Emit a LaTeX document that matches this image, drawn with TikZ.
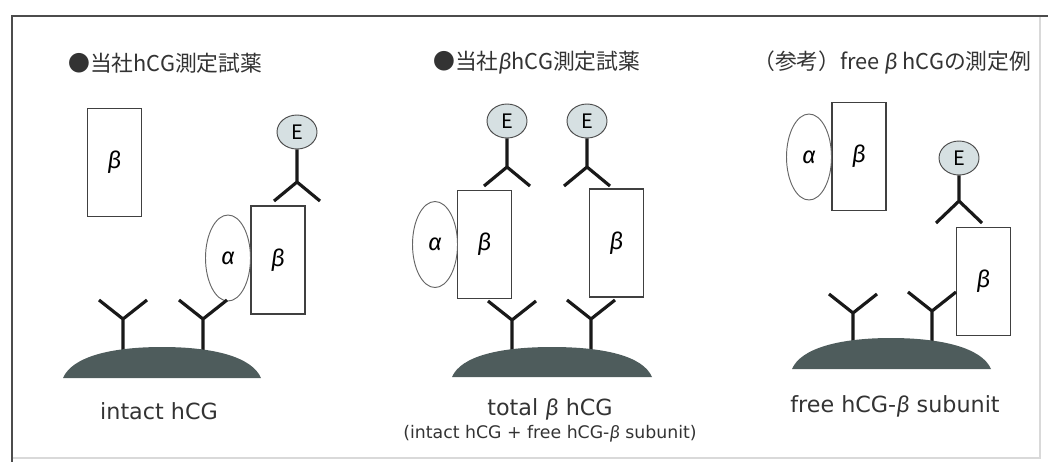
\documentclass[tikz,border=0pt]{standalone}
\usepackage{fontspec}
\usepackage{graphicx}
\usetikzlibrary{shapes.geometric}
\setmainfont{Noto Sans CJK JP}
\newfontfamily\greekfont{Fira Sans}
\newfontfamily\labelfont{DejaVu Sans}
\newcommand{\BetaIt}{{\greekfont\itshape β}}
\newcommand{\AlphaIt}{{\greekfont\itshape α}}
\definecolor{PhaseGray}{RGB}{78,92,92}
\definecolor{EnzymeFill}{RGB}{214,224,226}

\begin{document}
\begin{tikzpicture}[x=0.03cm,y=-0.03cm]
    \tikzset{SubunitStyle/.style =   {draw=black!75,line width=1.2pt,minimum width=1.62cm,minimum height=3.24cm,inner sep=0pt,font=\fontsize{20}{20}\selectfont}}
    \tikzset{AlphaStyle/.style =     {ellipse,draw=black!60,line width=0.8pt,minimum width=1.35cm,minimum height=2.58cm,inner sep=0pt,font=\fontsize{20}{20}\selectfont}}
    \tikzset{EnzymeStyle/.style =    {ellipse,draw=black!70,line width=0.8pt,fill=EnzymeFill,minimum width=1.2cm,minimum height=1.02cm,inner sep=0pt,font=\fontsize{17}{17}\selectfont}}
    \tikzset{AntibodyStyle/.style =  {line width=2.7pt,color=black!90}}
    \tikzset{PhaseStyle/.style =     {fill=PhaseGray}}
    \tikzset{TitleStyle/.style =     {anchor=west,inner sep=0pt,text=black!80,font=\fontsize{18.6}{18.6}\selectfont}}
    \tikzset{LabelStyle/.style =     {inner sep=0pt,text=black!80,font=\labelfont\fontsize{19}{19}\selectfont}}
    \tikzset{NoteStyle/.style =      {inner sep=0pt,text=black!80,font=\labelfont}}

    \useasboundingbox (0,0) rectangle (1048,462);
    % frame
    \draw[black!15,line width=1pt] (12,458) -- (1040,458) -- (1040,16);
    \draw[black!70,line width=1.4pt] (1048,16) -- (12,16) -- (12,462);

    % intact hCG
    \node[TitleStyle] (t1) at (68,63) {●当社hCG測定試薬};
    \node[SubunitStyle] (b1free) at (114.5,162.5) {\BetaIt};
    \node[SubunitStyle] (b1) at (278,260) {\BetaIt};
    \node[AlphaStyle] (a1) at (228,258) {\AlphaIt};
    \node[EnzymeStyle] (e1) at (297,132) {E};
    \draw[AntibodyStyle] (e1.south) -- (297,182) coordinate (f1) -- ++(-23,19) (f1) -- ++(23,19);
    \draw[AntibodyStyle] (123,360) -- (123,319) coordinate (g1) -- ++(-24,-19) (g1) -- ++(24,-19);
    \draw[AntibodyStyle] (203,360) -- (203,319) coordinate (g2) -- ++(-24,-19) (g2) -- ++(24,-19);
    \fill[PhaseStyle] (63,378) .. controls (72,357) and (110,347) .. (162,347)
                      .. controls (214,347) and (252,357) .. (261,378) -- cycle;
    \node[LabelStyle] (l1) at (159,411) {intact hCG};

    % total beta hCG
    \node[TitleStyle] (t2) at (433,63) {●当社\BetaIt hCG測定試薬};
    \node[SubunitStyle] (b2) at (484.5,244.5) {\BetaIt};
    \node[AlphaStyle] (a2) at (435,244.5) {\AlphaIt};
    \node[SubunitStyle] (b3) at (616.5,243) {\BetaIt};
    \node[EnzymeStyle] (e2) at (507,121) {E};
    \node[EnzymeStyle] (e3) at (587,121) {E};
    \draw[AntibodyStyle] (e2.south) -- (507,167) coordinate (f2) -- ++(-23,19) (f2) -- ++(23,19);
    \draw[AntibodyStyle] (e3.south) -- (587,167) coordinate (f3) -- ++(-23,19) (f3) -- ++(23,19);
    \draw[AntibodyStyle] (512,360) -- (512,320) coordinate (g3) -- ++(-24,-19) (g3) -- ++(24,-19);
    \draw[AntibodyStyle] (591,360) -- (591,319) coordinate (g4) -- ++(-24,-19) (g4) -- ++(24,-19);
    \fill[PhaseStyle] (452,377) .. controls (461,356) and (500,347) .. (552,347)
                      .. controls (604,347) and (643,356) .. (652,377) -- cycle;
    \node[LabelStyle] (l2) at (550,409) {total \BetaIt\ hCG};
    \node[NoteStyle] (l3) at (550,434) {\resizebox{8.8cm}{!}{(intact hCG + free hCG-\BetaIt\ subunit)}};

    % free beta hCG
    \node[TitleStyle] (t3) at (753,63) {（参考）free \BetaIt\ hCGの測定例};
    \node[SubunitStyle] (b4) at (859,156.5) {\BetaIt};
    \node[AlphaStyle] (a3) at (809,157) {\AlphaIt};
    \node[SubunitStyle] (b5) at (983.5,281.5) {\BetaIt};
    \node[EnzymeStyle] (e4) at (959,158) {E};
    \draw[AntibodyStyle] (e4.south) -- (959,201) coordinate (f4) -- ++(-23,22) (f4) -- ++(23,22);
    \draw[AntibodyStyle] (853,350) -- (853,313) coordinate (g5) -- ++(-24,-19) (g5) -- ++(24,-19);
    \draw[AntibodyStyle] (932,350) -- (932,311) coordinate (g6) -- ++(-24,-19) (g6) -- ++(24,-19);
    \fill[PhaseStyle] (792,369) .. controls (801,348) and (840,338) .. (891,338)
                      .. controls (942,338) and (982,348) .. (991,369) -- cycle;
    \node[LabelStyle] (l4) at (895,406) {free hCG-\BetaIt\ subunit};
\end{tikzpicture}
\end{document}
